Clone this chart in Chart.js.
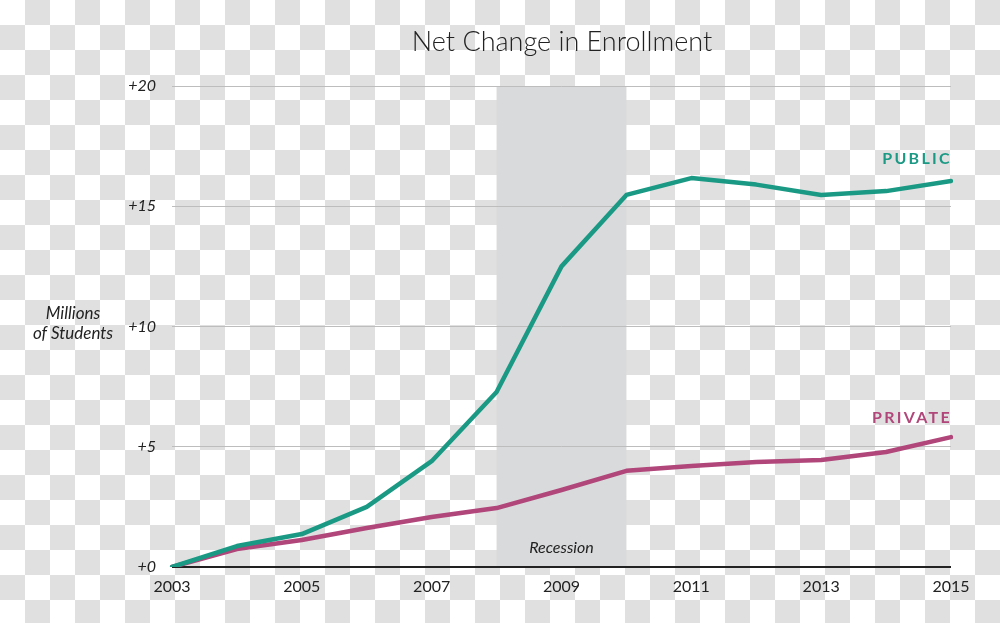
<!DOCTYPE html>
<html>
<head>
<meta charset="utf-8">
<script src="https://cdn.jsdelivr.net/npm/chart.js@4/dist/chart.umd.min.js"></script>
<style>
  html, body { margin: 0; padding: 0; }
  body {
    width: 1000px; height: 623px; overflow: hidden;
    background-color: #fff;
    background-image: conic-gradient(#e0e0e0 25%, #fff 0 50%, #e0e0e0 0 75%, #fff 0);
    background-size: 50px 50px;
  }
  canvas { display: block; }
</style>
</head>
<body>
<canvas id="chart" width="1000" height="623"></canvas>
<script>
// data (millions of students, change since 2003)
var years = ['2003', '2004', '2005', '2006', '2007', '2008', '2009', '2010', '2011', '2012', '2013', '2014', '2015'];
var publicChange = [0, 0.87, 1.37, 2.5, 4.4, 7.28, 12.5, 15.47, 16.17, 15.9, 15.47, 15.63, 16.05];
var privateChange = [0, 0.75, 1.12, 1.62, 2.08, 2.45, 3.2, 4.0, 4.2, 4.37, 4.45, 4.78, 5.4];
var yTicks = [0, 5, 10, 15, 20];
var recessionStart = '2008';
var recessionEnd = '2010';

var teal = '#1a9a85';
var plum = '#b0467a';
var fontFamily = 'Lato, "Noto Sans", sans-serif';

// grey band for the recession, behind the grid
var recessionBand = {
  id: 'recessionBand',
  beforeDraw: function (chart) {
    var ctx = chart.ctx, x = chart.scales.x, a = chart.chartArea;
    var x0 = x.getPixelForValue(years.indexOf(recessionStart));
    var x1 = x.getPixelForValue(years.indexOf(recessionEnd));
    ctx.save();
    ctx.fillStyle = '#d9dadc';
    ctx.fillRect(x0, a.top, x1 - x0, a.bottom - a.top);
    ctx.restore();
  }
};

// title, axis caption, series names
var textLabels = {
  id: 'textLabels',
  afterDraw: function (chart) {
    var ctx = chart.ctx, x = chart.scales.x;
    ctx.save();
    ctx.textBaseline = 'middle';

    ctx.fillStyle = '#222';
    ctx.textAlign = 'center';
    ctx.font = '300 27px ' + fontFamily;
    ctx.fillText('Net Change in Enrollment', 562, 42);

    ctx.font = 'italic 17px ' + fontFamily;
    ctx.fillText('Millions', 73, 314);
    ctx.fillText('of Students', 73, 334);

    var xm = (x.getPixelForValue(years.indexOf(recessionStart)) + x.getPixelForValue(years.indexOf(recessionEnd))) / 2;
    ctx.font = 'italic 16px ' + fontFamily;
    ctx.fillText('Recession', xm, 548);

    ctx.textAlign = 'right';
    ctx.font = 'bold 16px ' + fontFamily;
    ctx.letterSpacing = '2.3px';
    ctx.fillStyle = teal;
    ctx.fillText('PUBLIC', x.right + 1, 159);
    ctx.fillStyle = plum;
    ctx.fillText('PRIVATE', x.right + 1, 418);
    ctx.restore();
  }
};

new Chart(document.getElementById('chart'), {
  type: 'line',
  data: {
    labels: years,
    datasets: [
      { label: 'Public', data: publicChange, borderColor: teal, borderWidth: 4.5, borderCapStyle: 'round', borderJoinStyle: 'round', pointRadius: 0, tension: 0 },
      { label: 'Private', data: privateChange, borderColor: plum, borderWidth: 4.5, borderCapStyle: 'round', borderJoinStyle: 'round', pointRadius: 0, tension: 0 }
    ]
  },
  options: {
    responsive: false,
    animation: false,
    layout: { padding: { top: 86, right: 49, left: 0, bottom: 0 } },
    plugins: { legend: { display: false }, tooltip: { enabled: false } },
    scales: {
      x: {
        offset: false,
        grid: { display: false, drawTicks: false },
        border: { display: false },
        ticks: {
          autoSkip: false, maxRotation: 0, padding: 10,
          color: '#222', font: { family: fontFamily, size: 16 },
          callback: function (v, i) { return i % 2 === 0 ? years[i] : ''; }
        },
        afterFit: function (s) { s.height = 56; }
      },
      y: {
        min: 0, max: 20,
        afterBuildTicks: function (s) { s.ticks = yTicks.map(function (v) { return { value: v }; }); },
        grid: {
          drawTicks: false,
          color: function (c) { return c.tick.value === 0 ? '#222' : '#bdbdbd'; },
          lineWidth: function (c) { return c.tick.value === 0 ? 2 : 1; }
        },
        border: { display: false },
        ticks: {
          padding: 16, color: '#222',
          font: { family: fontFamily, size: 16, style: 'italic' },
          callback: function (v) { return '+' + v; }
        },
        afterFit: function (s) { s.width = 172; }
      }
    }
  },
  plugins: [recessionBand, textLabels]
});
</script>
</body>
</html>
